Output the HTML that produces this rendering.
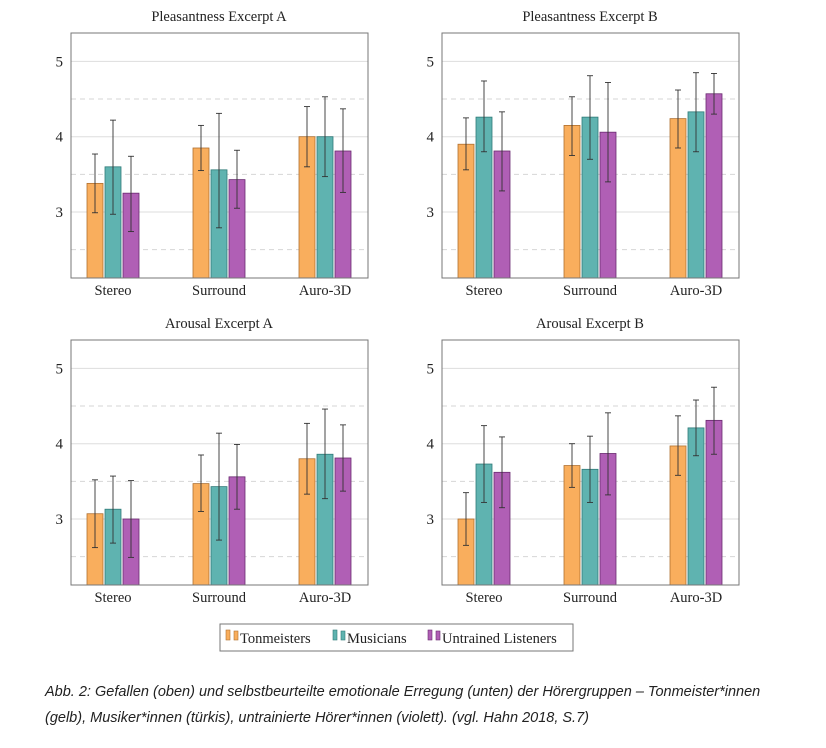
<!DOCTYPE html>
<html><head><meta charset="utf-8"><style>
body{margin:0;background:#fff;width:826px;height:748px;overflow:hidden;font-family:"Liberation Sans",sans-serif}
svg{position:absolute;left:0;top:0}
.cap{position:absolute;left:45px;font-style:italic;font-size:14.5px;color:#222;white-space:nowrap}
</style></head><body>
<svg id="s" width="826" height="748" xmlns="http://www.w3.org/2000/svg" font-family="Liberation Serif, serif"></svg>
<div class="cap" style="top:684px">Abb. 2: Gefallen (oben) und selbstbeurteilte emotionale Erregung (unten) der Hörergruppen – Tonmeister*innen</div>
<div class="cap" style="top:710px">(gelb), Musiker*innen (türkis), untrainierte Hörer*innen (violett). (vgl. Hahn 2018, S.7)</div>
<script>
const cols=["#f9ae5d","#5fb3b0","#b05fb5"],edge=["#b07030","#2f7a78","#6a2a70"];
const panels=[
{t:"Pleasantness Excerpt A",x:71,y:0,d:[[3.38,2.99,3.77,3.6,2.97,4.22,3.25,2.74,3.74],[3.85,3.55,4.15,3.56,2.79,4.31,3.43,3.05,3.82],[4.0,3.6,4.4,4.0,3.47,4.53,3.81,3.26,4.37]]},
{t:"Pleasantness Excerpt B",x:442,y:0,d:[[3.9,3.56,4.25,4.26,3.8,4.74,3.81,3.28,4.33],[4.15,3.75,4.53,4.26,3.7,4.81,4.06,3.4,4.72],[4.24,3.85,4.62,4.33,3.8,4.85,4.57,4.3,4.84]]},
{t:"Arousal Excerpt A",x:71,y:307,d:[[3.07,2.62,3.52,3.13,2.68,3.57,3.0,2.49,3.51],[3.47,3.1,3.85,3.43,2.72,4.14,3.56,3.13,3.99],[3.8,3.33,4.27,3.86,3.27,4.46,3.81,3.37,4.25]]},
{t:"Arousal Excerpt B",x:442,y:307,d:[[3.0,2.65,3.35,3.73,3.22,4.24,3.62,3.15,4.09],[3.71,3.42,4.0,3.66,3.22,4.1,3.87,3.32,4.41],[3.97,3.58,4.37,4.21,3.84,4.58,4.31,3.86,4.75]]}];
let h="";
for(const p of panels){
 const L=p.x,R=p.x+297,T=p.y+33,B=p.y+278;
 const Y=v=>p.y+212-(v-3)*75.3;
 h+=`<text x="${L+148}" y="${p.y+21}" font-size="14.5" text-anchor="middle" fill="#222">${p.t}</text>`;
 for(const v of [3,4,5]){h+=`<line x1="${L}" x2="${R}" y1="${Y(v)}" y2="${Y(v)}" stroke="#ddd"/>`;
  h+=`<text x="${L-8}" y="${Y(v)+5}" font-size="15" text-anchor="end" fill="#222">${v}</text>`;}
 for(const v of [2.5,3.5,4.5])h+=`<line x1="${L}" x2="${R}" y1="${Y(v)}" y2="${Y(v)}" stroke="#d6d6d6" stroke-dasharray="5,4"/>`;
 const names=["Stereo","Surround","Auro-3D"];
 for(let g=0;g<3;g++){const c=L+42+g*106;
  for(let k=0;k<3;k++){const [m,lo,hi]=p.d[g].slice(k*3,k*3+3);const x=c-26+k*18;
   h+=`<rect x="${x}" y="${Y(m)}" width="16" height="${B-Y(m)}" fill="${cols[k]}" stroke="${edge[k]}" stroke-width="0.8"/>`;
   const cx=x+8;h+=`<g stroke="#333" stroke-width="0.9"><line x1="${cx}" x2="${cx}" y1="${Y(hi)}" y2="${Y(lo)}"/><line x1="${cx-3}" x2="${cx+3}" y1="${Y(hi)}" y2="${Y(hi)}"/><line x1="${cx-3}" x2="${cx+3}" y1="${Y(lo)}" y2="${Y(lo)}"/></g>`;}
  h+=`<text x="${c}" y="${B+17}" font-size="14.5" text-anchor="middle" fill="#222">${names[g]}</text>`;}
 h+=`<rect x="${L}" y="${T}" width="297" height="245" fill="none" stroke="#777"/>`;
}
h+=`<rect x="220" y="624" width="353" height="27" fill="none" stroke="#777"/>`;
const lg=[["Tonmeisters",226],["Musicians",333],["Untrained Listeners",428]];
lg.forEach((l,k)=>{h+=`<rect x="${l[1]}" y="630" width="4" height="10" fill="${cols[k]}" stroke="${edge[k]}" stroke-width="0.6"/><rect x="${l[1]+8}" y="631" width="4" height="9" fill="${cols[k]}" stroke="${edge[k]}" stroke-width="0.6"/><text x="${l[1]+14}" y="643" font-size="14.5" fill="#222">${l[0]}</text>`;});
document.getElementById("s").innerHTML=h;
</script>
</body></html>
